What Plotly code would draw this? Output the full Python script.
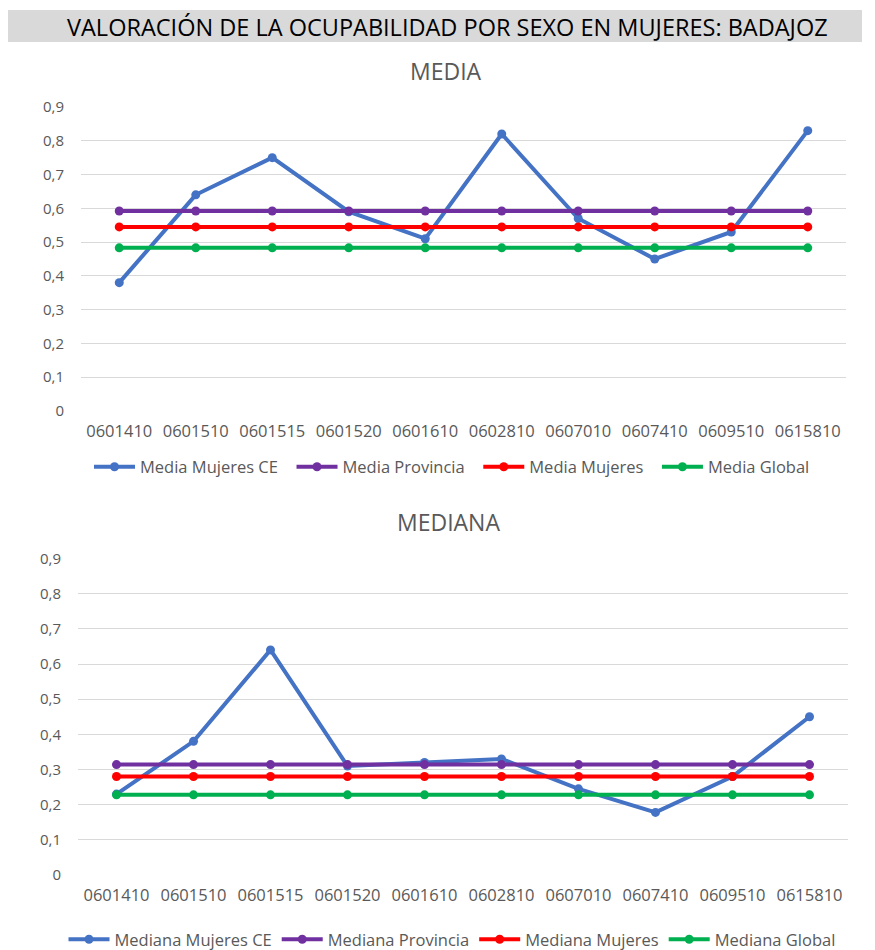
import plotly.graph_objects as go

# Degree codes on the horizontal axis
codigos = ["0601410", "0601510", "0601515", "0601520", "0601610",
           "0602810", "0607010", "0607410", "0609510", "0615810"]

# MEDIA panel
media_mujeres_ce = [0.38, 0.64, 0.75, 0.59, 0.51, 0.82, 0.57, 0.45, 0.53, 0.83]
media_provincia = 0.592
media_mujeres = 0.545
media_global = 0.483

# MEDIANA panel
mediana_mujeres_ce = [0.23, 0.38, 0.64, 0.31, 0.32, 0.33, 0.245, 0.178, 0.28, 0.45]
mediana_provincia = 0.314
mediana_mujeres = 0.28
mediana_global = 0.228

AZUL = "#4472C4"
MORADO = "#7030A0"
ROJO = "#FF0000"
VERDE = "#00B050"
GRIS_TEXTO = "#595959"
FUENTE = "Open Sans, sans-serif"
HUECO = "\u00a0\u00a0"  # extra room after a legend entry

W, H = 875, 950


def py(px):
    return 1 - px / H


def px_x(px):
    return px / W


fig = go.Figure()


def serie(nombre, valores, color, xa, ya, leyenda):
    fig.add_trace(go.Scatter(
        x=codigos, y=valores, name=nombre, mode="lines+markers",
        line=dict(color=color, width=4),
        marker=dict(color=color, size=9),
        xaxis=xa, yaxis=ya, legend=leyenda, hoverinfo="skip"))


n = len(codigos)
serie("Media Mujeres CE" + HUECO, media_mujeres_ce, AZUL, "x", "y", "legend")
serie("Media Provincia" + HUECO, [media_provincia] * n, MORADO, "x", "y", "legend")
serie("Media Mujeres" + HUECO, [media_mujeres] * n, ROJO, "x", "y", "legend")
serie("Media Global", [media_global] * n, VERDE, "x", "y", "legend")

serie("Mediana Mujeres CE", mediana_mujeres_ce, AZUL, "x2", "y2", "legend2")
serie("Mediana Provincia", [mediana_provincia] * n, MORADO, "x2", "y2", "legend2")
serie("Mediana Mujeres", [mediana_mujeres] * n, ROJO, "x2", "y2", "legend2")
serie("Mediana Global", [mediana_global] * n, VERDE, "x2", "y2", "legend2")

eje_x = dict(type="category", range=[-0.5, n - 0.5], showgrid=False,
             showline=False, zeroline=False, ticks="", automargin=False,
             ticklabelstandoff=8,
             tickfont=dict(family=FUENTE, size=16.5, color=GRIS_TEXTO))
eje_y = dict(range=[0, 0.9], dtick=0.1, tick0=0, showgrid=True,
             gridcolor="#D9D9D9", gridwidth=1.3, zeroline=False, showline=False,
             ticks="", ticklabelstandoff=16, automargin=False,
             tickfont=dict(family=FUENTE, size=15, color=GRIS_TEXTO))

leyenda = dict(orientation="h", xanchor="center", yanchor="middle",
               font=dict(family=FUENTE, size=16.5, color=GRIS_TEXTO),
               itemwidth=41, traceorder="normal", bgcolor="rgba(0,0,0,0)")

fig.update_layout(
    width=W, height=H,
    margin=dict(l=0, r=0, t=0, b=0, autoexpand=False),
    paper_bgcolor="white", plot_bgcolor="white",
    separators=", ",
    showlegend=True,
    xaxis=dict(eje_x, domain=[px_x(81), px_x(846)], anchor="y"),
    yaxis=dict(eje_y, domain=[py(411), py(107)], anchor="x"),
    xaxis2=dict(eje_x, domain=[px_x(78), px_x(848)], anchor="y2"),
    yaxis2=dict(eje_y, domain=[py(875), py(558.5)], anchor="x2"),
    legend=dict(leyenda, x=px_x(452), y=py(467)),
    legend2=dict(leyenda, x=px_x(452), y=py(939.5)),
)

# Banner across the top
fig.add_shape(type="rect", xref="paper", yref="paper",
              x0=px_x(8), x1=px_x(862), y0=py(42), y1=py(10),
              fillcolor="#D9D9D9", line=dict(width=0), layer="below")
fig.add_annotation(text="VALORACIÓN DE LA OCUPABILIDAD POR SEXO EN MUJERES: BADAJOZ",
                   xref="paper", yref="paper", x=px_x(447), y=py(27),
                   xanchor="center", yanchor="middle", showarrow=False,
                   font=dict(family=FUENTE, size=23.5, color="#000000"))
fig.add_annotation(text="MEDIA", xref="paper", yref="paper",
                   x=px_x(446), y=py(71), xanchor="center", yanchor="middle",
                   showarrow=False, font=dict(family=FUENTE, size=23, color=GRIS_TEXTO))
fig.add_annotation(text="MEDIANA", xref="paper", yref="paper",
                   x=px_x(448), y=py(522), xanchor="center", yanchor="middle",
                   showarrow=False, font=dict(family=FUENTE, size=23, color=GRIS_TEXTO))

fig.write_html("out.html")
